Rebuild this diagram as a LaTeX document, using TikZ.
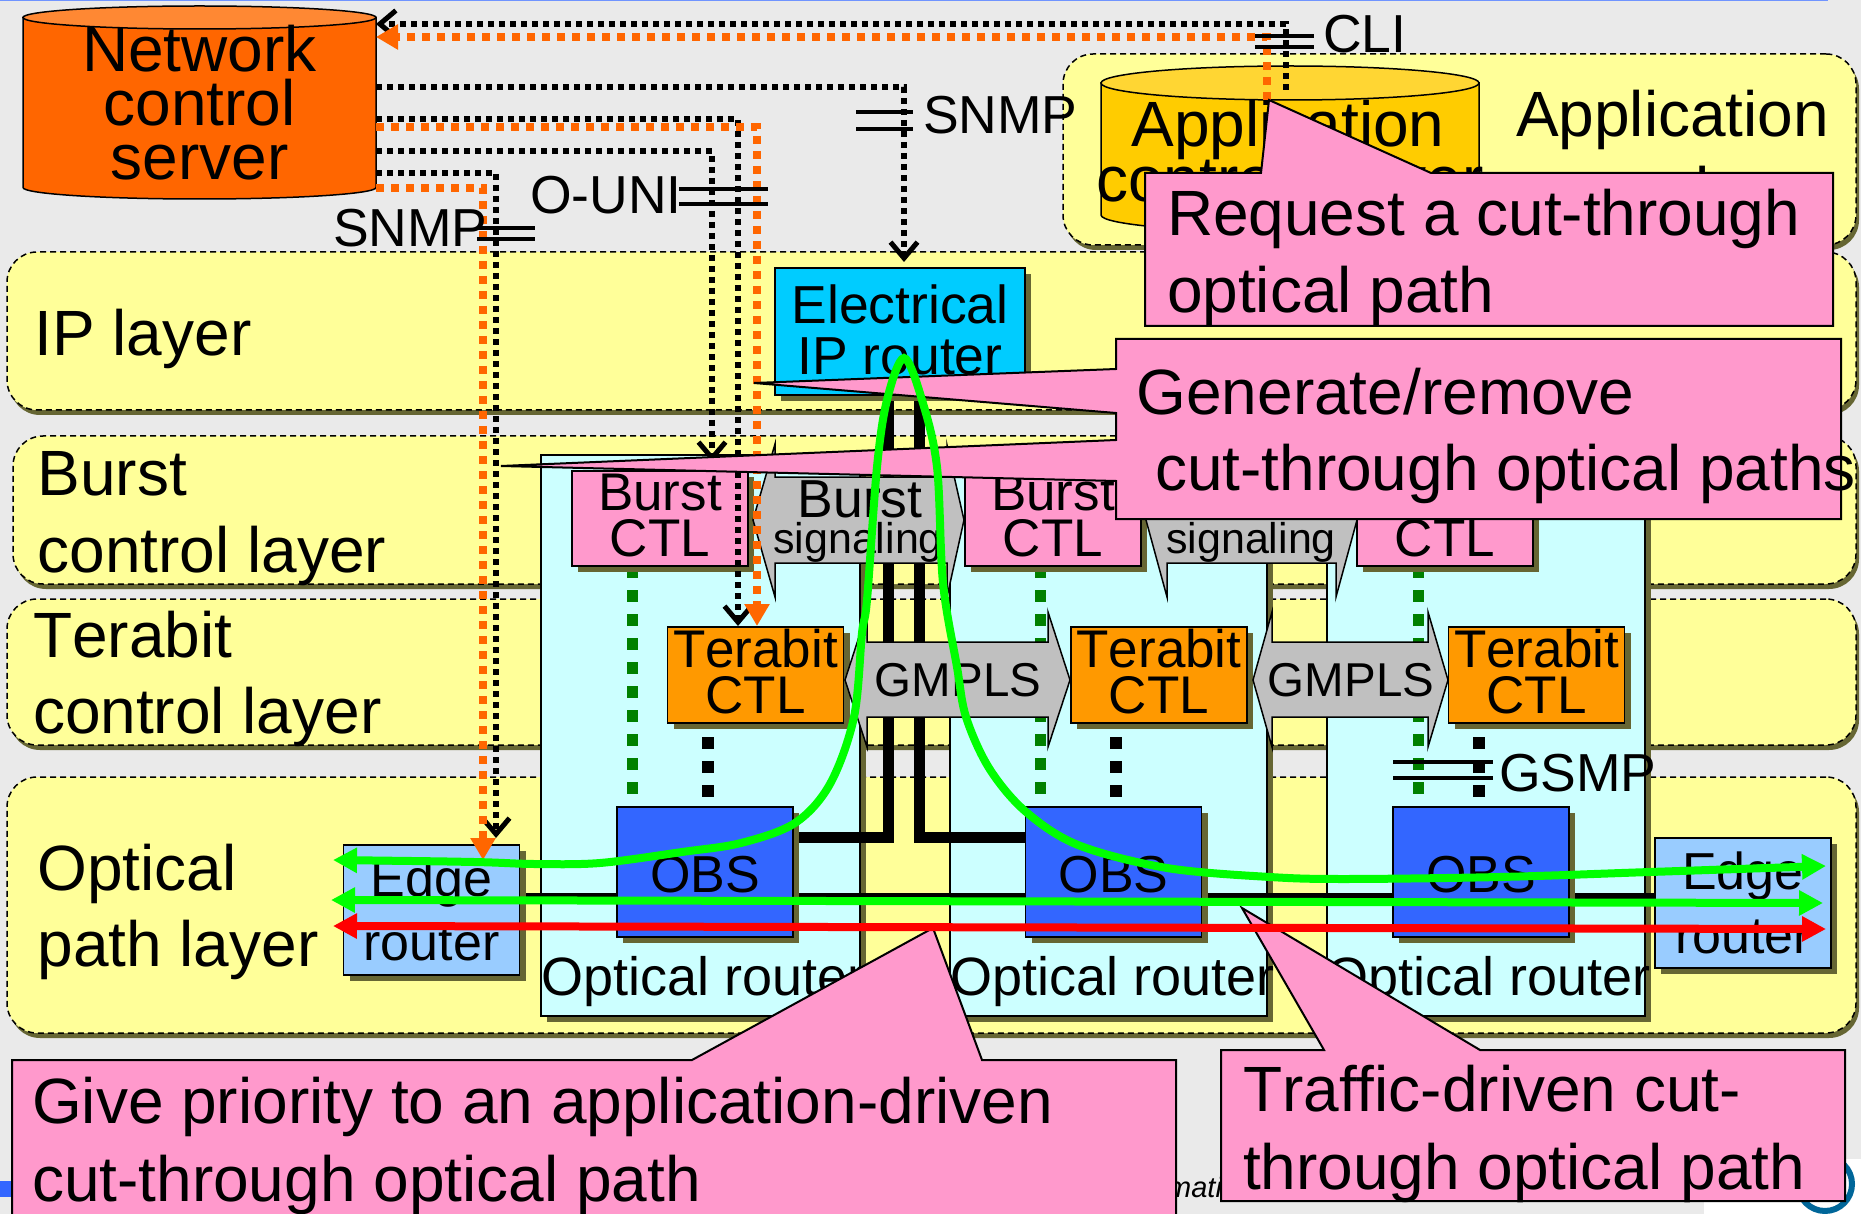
\documentclass[tikz,border=0pt]{standalone}
\usepackage{fontspec}
\usepackage{xcolor}
\setmainfont[Kerning=Off]{Liberation Sans}
\usetikzlibrary{shadows,arrows.meta}
\definecolor{backgray}{HTML}{EAEAEA}
\definecolor{layeryellow}{HTML}{FFFF99}
\definecolor{shadowolive}{HTML}{666633}
\definecolor{routercyan}{HTML}{CCFFFF}
\definecolor{callpink}{HTML}{FF99CC}
\definecolor{srvorange}{HTML}{FF6600}
\definecolor{srvtop}{HTML}{FF8833}
\definecolor{appyellow}{HTML}{FFCC00}
\definecolor{apptop}{HTML}{FFD633}
\definecolor{terabitorange}{HTML}{FF9900}
\definecolor{obsblue}{HTML}{3366FF}
\definecolor{edgeblue}{HTML}{99CCFF}
\definecolor{ipblue}{HTML}{00CCFF}
\definecolor{siggray}{HTML}{C0C0C0}
\definecolor{dotgreen}{HTML}{008000}
\definecolor{logoblue}{HTML}{006699}
\tikzset{
  hugetext/.style={font=\fontsize{64}{76}\selectfont,inner sep=0pt,outer sep=0pt,align=left},
  midtext/.style={font=\fontsize{53.5}{52}\selectfont,inner sep=0pt,outer sep=0pt},
  layerbox/.style={draw=black,dash pattern=on 6pt off 4pt,line width=1.5pt,fill=layeryellow,rounded corners=30pt,inner sep=0pt,outer sep=0pt,minimum width=1849pt,
    drop shadow={shadow xshift=3pt,shadow yshift=-5pt,fill=shadowolive,opacity=1}},
  plainbox/.style={draw=black,line width=1.5pt,inner sep=0pt,outer sep=0pt,align=center,
    drop shadow={shadow xshift=6pt,shadow yshift=-6pt,fill=shadowolive,opacity=1}},
  routerbox/.style={plainbox,fill=routercyan,minimum height=561pt},
  burstbox/.style={plainbox,fill=callpink,minimum width=176pt,minimum height=95pt,font=\fontsize{53}{46}\selectfont,text depth=6pt},
  terabitbox/.style={plainbox,fill=terabitorange,minimum width=176pt,minimum height=96pt,font=\fontsize{53}{46}\selectfont,text depth=8pt},
  obsbox/.style={plainbox,fill=obsblue,minimum width=176pt,minimum height=130pt,font=\fontsize{52}{52}\selectfont,text height=41pt},
  edgebox/.style={plainbox,fill=edgeblue,minimum width=176pt,minimum height=130pt,font=\fontsize{52}{64}\selectfont},
  cylbody/.style={draw=black,line width=1.5pt},
  blackdots/.style={draw=black,line width=6pt,dash pattern=on 6pt off 5pt},
  orangedots/.style={draw=srvorange,line width=8pt,dash pattern=on 8pt off 7pt},
  greenposts/.style={draw=dotgreen,line width=11pt,dash pattern=on 12pt off 12pt},
  blackposts/.style={draw=black,line width=12pt,dash pattern=on 12pt off 12pt},
  blacktip/.style={-{Straight Barb[length=16pt,width=27pt,line width=5pt]}},
  orangetip/.style={-{Triangle[length=22pt,width=24pt]}},
  pathtips/.style={{Triangle[length=24pt,width=24pt]}-{Triangle[length=24pt,width=24pt]}},
  signalarrow/.style={draw=black,line width=1.5pt,fill=siggray},
  callout/.style={draw=black,line width=2pt,fill=callpink},
  protomark/.style={draw=black,line width=3.5pt},
}
\begin{document}
\begin{tikzpicture}[scale=1.000000,x=1pt,y=-1pt]
\useasboundingbox (0.000000, 0.000000) rectangle (1861.000000, 1214.000000);
\fill[color=backgray] (0.000000, 0.000000) rectangle (1861.000000, 1214.000000);
% Drawing page remains
\fill[color=obsblue!70!white] (0.000000, 0.000000) rectangle (1828.000000, 1.500000);
\fill[color=obsblue] (0.000000, 1181.000000) rectangle (14.000000, 1197.000000);
\fill[color=white] (1704.000000, 1159.000000) rectangle (1861.000000, 1214.000000);
\draw[color=logoblue,line width=6pt] (1825.000000, 1184.000000) circle(27.000000pt);
\node[font=\fontsize{29}{29}\selectfont\itshape,anchor=base west,inner sep=0pt] (pagefoot) at (1167.000000, 1197.000000) {mati};
% Drawing layers
\node[layerbox,minimum width=793pt,minimum height=191pt] (applayer) at (1459.500000, 149.500000) {};
\node[layerbox,minimum height=158pt] (iplayer) at (931.500000, 331.000000) {};
\node[layerbox,minimum width=1843pt,minimum height=148pt] (burstlayer) at (934.500000, 510.000000) {};
\node[layerbox,minimum height=146pt] (terabitlayer) at (931.500000, 672.000000) {};
\node[layerbox,minimum height=256pt] (opticallayer) at (931.500000, 905.000000) {};
\node[hugetext,anchor=base west] (applabela) at (1516.000000, 137.000000) {Application};
\node[hugetext,anchor=base west] (applabelb) at (1695.000000, 213.000000) {layer};
\node[hugetext,anchor=base west] (iplabel) at (34.500000, 356.000000) {IP layer};
\node[hugetext,anchor=base west] (burstlabela) at (37.500000, 495.000000) {Burst};
\node[hugetext,anchor=base west] (burstlabelb) at (37.500000, 572.000000) {control layer};
\node[hugetext,anchor=base west] (terabitlabela) at (33.000000, 657.000000) {Terabit};
\node[hugetext,anchor=base west] (terabitlabelb) at (33.000000, 733.000000) {control layer};
\node[hugetext,anchor=base west] (opticallabela) at (37.500000, 890.000000) {Optical};
\node[hugetext,anchor=base west] (opticallabelb) at (37.500000, 966.000000) {path layer};
% Drawing servers
\draw[cylbody,fill=srvorange] (23.000000, 17.500000) -- (23.000000, 187.500000) arc[start angle=180,end angle=360,x radius=176.500000pt,y radius=11.500000pt] -- (376.000000, 17.500000) -- cycle;
\draw[cylbody,fill=srvtop] (199.500000, 17.500000) ellipse[x radius=176.500000pt,y radius=11.500000pt];
\node[font=\fontsize{64}{54}\selectfont,align=center,inner sep=0pt] (netsrvtext) at (199.500000, 103.000000) {Network\\control\\server};
\draw[cylbody,fill=appyellow] (1101.000000, 83.000000) -- (1101.000000, 215.000000) arc[start angle=180,end angle=360,x radius=189.000000pt,y radius=17.000000pt] -- (1479.000000, 83.000000) -- cycle;
\draw[cylbody,fill=apptop] (1290.000000, 83.000000) ellipse[x radius=189.000000pt,y radius=17.000000pt];
\node[font=\fontsize{64}{64}\selectfont,inner sep=0pt,anchor=base] (appctltexta) at (1288.000000, 147.000000) {Application};
\node[font=\fontsize{64}{64}\selectfont,inner sep=0pt,anchor=base] (appctltextb) at (1290.000000, 202.000000) {control server};
% Drawing optical routers
\node[routerbox,minimum width=319pt] (routera) at (700.500000, 735.500000) {};
\node[routerbox,minimum width=317pt] (routerb) at (1108.500000, 735.500000) {};
\node[routerbox,minimum width=318pt] (routerc) at (1486.000000, 735.500000) {};
\node[font=\fontsize{54}{56}\selectfont,anchor=base west,inner sep=0pt] (routeratext) at (541.000000, 995.000000) {Optical router};
\node[font=\fontsize{54}{56}\selectfont,anchor=base west,inner sep=0pt] (routerbtext) at (950.000000, 995.000000) {Optical router};
\node[font=\fontsize{54}{56}\selectfont,anchor=base west,inner sep=0pt] (routerctext) at (1326.000000, 995.000000) {Optical router};
% Done with routers; drawing wires
\coordinate (thinl) at (520.000000, 896.000000);
\coordinate (thinr) at (1655.000000, 896.000000);
\coordinate (ipportl) at (888.000000, 395.000000);
\coordinate (ipportr) at (919.000000, 395.000000);
\coordinate (obsportl) at (793.000000, 837.000000);
\coordinate (obsportr) at (1025.000000, 837.000000);
\draw[color=black,line width=7pt] (thinl) -- (thinr);
\draw[color=black,line width=11pt] (ipportl) |- (obsportl);
\draw[color=black,line width=11pt] (ipportr) |- (obsportr);
% Line: burst to OBS, terabit to OBS
\coordinate (burstpostaend) at (632.000000, 796.000000);
\coordinate (burstpostbend) at (1040.000000, 796.000000);
\coordinate (burstpostcend) at (1418.000000, 796.000000);
\coordinate (burstpostatop) at (632.000000, 566.000000);
\coordinate (burstpostbtop) at (1040.000000, 566.000000);
\coordinate (burstpostctop) at (1418.000000, 566.000000);
\draw[greenposts] (burstpostatop) -- (burstpostaend);
\draw[greenposts] (burstpostbtop) -- (burstpostbend);
\draw[greenposts] (burstpostctop) -- (burstpostcend);
\coordinate (terapostatop) at (708.000000, 737.000000);
\coordinate (terapostbtop) at (1116.000000, 737.000000);
\coordinate (terapostctop) at (1479.000000, 737.000000);
\coordinate (terapostaend) at (708.000000, 797.000000);
\coordinate (terapostbend) at (1116.000000, 797.000000);
\coordinate (terapostcend) at (1479.000000, 797.000000);
\draw[blackposts] (terapostatop) -- (terapostaend);
\draw[blackposts] (terapostbtop) -- (terapostbend);
\draw[blackposts] (terapostctop) -- (terapostcend);
% Done with wires; drawing boxes
\node[obsbox] (obsa) at (705.000000, 872.000000) {OBS};
\node[obsbox] (obsb) at (1113.500000, 872.000000) {OBS};
\node[obsbox] (obsc) at (1481.000000, 872.000000) {OBS};
\node[edgebox] (edgel) at (431.500000, 910.000000) {Edge\\router};
\node[edgebox] (edger) at (1743.000000, 903.000000) {Edge\\router};
\node[plainbox,fill=ipblue,minimum width=250pt,minimum height=127pt,font=\fontsize{53.5}{51}\selectfont,text depth=4pt] (iprouter) at (900.000000, 331.500000) {Electrical\\IP router};
\node[burstbox] (burstctla) at (660.000000, 518.500000) {Burst\\CTL};
\node[burstbox] (burstctlb) at (1053.000000, 518.500000) {Burst\\CTL};
\node[burstbox] (burstctlc) at (1445.000000, 518.500000) {Burst\\CTL};
\node[terabitbox] (terabita) at (755.500000, 675.000000) {Terabit\\CTL};
\node[terabitbox] (terabitb) at (1159.000000, 675.000000) {Terabit\\CTL};
\node[terabitbox] (terabitc) at (1536.500000, 675.000000) {Terabit\\CTL};
% Drawing signaling arrows
\draw[signalarrow] (753.000000, 520.000000) -- (775.000000, 444.000000) -- (775.000000, 477.000000) -- (947.000000, 477.000000) -- (947.000000, 445.000000) -- (964.000000, 520.000000) -- (947.000000, 597.000000) -- (947.000000, 563.000000) -- (775.000000, 563.000000) -- (775.000000, 597.000000) -- cycle;
\draw[signalarrow] (1146.000000, 520.000000) -- (1167.000000, 444.000000) -- (1167.000000, 477.000000) -- (1336.000000, 477.000000) -- (1336.000000, 444.000000) -- (1357.000000, 520.000000) -- (1336.000000, 597.000000) -- (1336.000000, 563.000000) -- (1167.000000, 563.000000) -- (1167.000000, 597.000000) -- cycle;
\draw[signalarrow] (845.000000, 680.000000) -- (867.000000, 612.000000) -- (867.000000, 642.000000) -- (1048.000000, 642.000000) -- (1048.000000, 612.000000) -- (1070.000000, 680.000000) -- (1048.000000, 747.000000) -- (1048.000000, 717.000000) -- (867.000000, 717.000000) -- (867.000000, 747.000000) -- cycle;
\draw[signalarrow] (1253.000000, 680.000000) -- (1272.000000, 612.000000) -- (1272.000000, 642.000000) -- (1428.000000, 642.000000) -- (1428.000000, 612.000000) -- (1448.000000, 680.000000) -- (1428.000000, 747.000000) -- (1428.000000, 717.000000) -- (1272.000000, 717.000000) -- (1272.000000, 747.000000) -- cycle;
\node[midtext,anchor=base] (burstsigtexta) at (860.000000, 517.000000) {Burst};
\node[font=\fontsize{43}{43}\selectfont,anchor=base,inner sep=0pt] (signaltexta) at (858.000000, 553.000000) {signaling};
\node[midtext,anchor=base] (burstsigtextb) at (1250.000000, 517.000000) {Burst};
\node[font=\fontsize{43}{43}\selectfont,anchor=base,inner sep=0pt] (signaltextb) at (1251.000000, 553.000000) {signaling};
\node[font=\fontsize{47.5}{47}\selectfont,anchor=base,inner sep=0pt] (gmplstexta) at (958.000000, 696.000000) {GMPLS};
\node[font=\fontsize{47.5}{47}\selectfont,anchor=base,inner sep=0pt] (gmplstextb) at (1351.000000, 696.000000) {GMPLS};
% Done with boxes; drawing control lines
\coordinate (srvcli) at (376.000000, 24.000000);
\coordinate (srvcliorange) at (376.000000, 37.000000);
\coordinate (clistub) at (1286.000000, 90.000000);
\coordinate (clistuborange) at (1267.000000, 100.000000);
\coordinate (srvsnmpip) at (376.000000, 87.000000);
\coordinate (ipin) at (904.000000, 262.000000);
\coordinate (srvteraa) at (376.000000, 119.000000);
\coordinate (terain) at (738.000000, 626.000000);
\coordinate (srvterab) at (376.000000, 127.000000);
\coordinate (terainorange) at (757.000000, 626.000000);
\coordinate (srvburst) at (376.000000, 151.000000);
\coordinate (burstin) at (712.000000, 462.000000);
\coordinate (srvedgea) at (376.000000, 173.000000);
\coordinate (edgein) at (496.000000, 838.000000);
\coordinate (srvedgeb) at (376.000000, 188.000000);
\coordinate (edgeinorange) at (483.000000, 860.000000);
\draw[blackdots,blacktip] (clistub) |- (srvcli);
\draw[orangedots,orangetip] (clistuborange) |- (srvcliorange);
\draw[blackdots,blacktip] (srvsnmpip) -| (ipin);
\draw[blackdots,blacktip] (srvteraa) -| (terain);
\draw[orangedots,orangetip] (srvterab) -| (terainorange);
\draw[blackdots,blacktip] (srvburst) -| (burstin);
\draw[blackdots,blacktip] (srvedgea) -| (edgein);
\draw[orangedots,orangetip] (srvedgeb) -| (edgeinorange);
% Drawing protocol marks
\draw[protomark] (477.000000, 228.000000) -- (535.000000, 228.000000);
\draw[protomark] (477.000000, 239.000000) -- (535.000000, 239.000000);
\draw[protomark] (679.000000, 189.000000) -- (768.000000, 189.000000);
\draw[protomark] (679.000000, 204.000000) -- (768.000000, 204.000000);
\draw[protomark] (856.000000, 112.000000) -- (913.000000, 112.000000);
\draw[protomark] (856.000000, 129.000000) -- (913.000000, 129.000000);
\draw[protomark] (1255.000000, 36.000000) -- (1314.000000, 36.000000);
\draw[protomark] (1255.000000, 47.000000) -- (1314.000000, 47.000000);
\draw[protomark] (1393.000000, 762.000000) -- (1493.000000, 762.000000);
\draw[protomark] (1393.000000, 778.000000) -- (1493.000000, 778.000000);
\node[midtext,anchor=base west] (snmpedge) at (333.000000, 247.000000) {SNMP};
\node[midtext,anchor=base west] (ouni) at (530.000000, 214.000000) {O-UNI};
\node[midtext,anchor=base west] (snmpip) at (923.000000, 134.000000) {SNMP};
\node[midtext,anchor=base west] (cli) at (1323.000000, 53.000000) {CLI};
\node[midtext,anchor=base west] (gsmp) at (1499.000000, 791.000000) {GSMP};
% Done with control lines; drawing comments
\draw[callout] (1145.000000, 173.000000) -- (1261.000000, 173.000000) -- (1269.000000, 100.000000) -- (1431.000000, 173.000000) -- (1833.000000, 173.000000) -- (1833.000000, 326.000000) -- (1145.000000, 326.000000) -- cycle;
\draw[callout] (1116.000000, 339.000000) -- (1841.000000, 339.000000) -- (1841.000000, 519.000000) -- (1116.000000, 519.000000) -- (1116.000000, 481.000000) -- (501.000000, 466.000000) -- (1116.000000, 440.000000) -- (1116.000000, 413.000000) -- (754.000000, 383.000000) -- (1116.000000, 369.000000) -- cycle;
\draw[callout] (12.000000, 1060.000000) -- (692.000000, 1060.000000) -- (933.000000, 928.000000) -- (982.000000, 1060.000000) -- (1176.000000, 1060.000000) -- (1176.000000, 1220.000000) -- (12.000000, 1220.000000) -- cycle;
\draw[callout] (1221.000000, 1050.000000) -- (1324.000000, 1050.000000) -- (1242.000000, 908.000000) -- (1480.000000, 1050.000000) -- (1845.000000, 1050.000000) -- (1845.000000, 1201.000000) -- (1221.000000, 1201.000000) -- cycle;
\node[hugetext,anchor=base west] (requesttexta) at (1167.000000, 236.000000) {Request a cut-through};
\node[hugetext,anchor=base west] (requesttextb) at (1167.000000, 313.000000) {optical path};
\node[hugetext,anchor=base west] (generatetexta) at (1136.500000, 415.000000) {Generate/remove};
\node[hugetext,anchor=base west] (generatetextb) at (1155.000000, 490.000000) {cut-through optical paths};
\node[hugetext,anchor=base west] (prioritytexta) at (32.000000, 1123.000000) {Give priority to an application-driven};
\node[hugetext,anchor=base west] (prioritytextb) at (32.000000, 1201.000000) {cut-through optical path};
\node[hugetext,anchor=base west] (traffictexta) at (1243.000000, 1111.000000) {Traffic-driven cut-};
\node[hugetext,anchor=base west] (traffictextb) at (1243.000000, 1189.000000) {through optical path};
% Done with comments; drawing optical paths
\coordinate (greenl) at (333.000000, 860.000000);
\coordinate (greenr) at (1826.000000, 866.000000);
\coordinate (midl) at (331.000000, 900.000000);
\coordinate (midr) at (1823.000000, 903.000000);
\coordinate (redl) at (333.000000, 926.000000);
\coordinate (redr) at (1826.000000, 929.000000);
\draw[color=green,line width=8pt,pathtips] plot[smooth,tension=0.55] coordinates {(greenl) (474,862) (534,864) (600,863) (682,852) (741,843) (795,823) (830,784) (854,717) (862,633) (867,600) (877,467) (887,400) (904,358) (922,400) (937,467) (943,583) (957,667) (966,717) (989,768) (1025,811) (1078,845) (1167,868) (1270,877) (1345,879) (1500,877) (1650,872) (greenr)};
\draw[color=green,line width=8pt,pathtips] (midl) -- (midr);
\draw[color=red,line width=8pt,pathtips] (redl) -- (redr);
\end{tikzpicture}
\end{document}
